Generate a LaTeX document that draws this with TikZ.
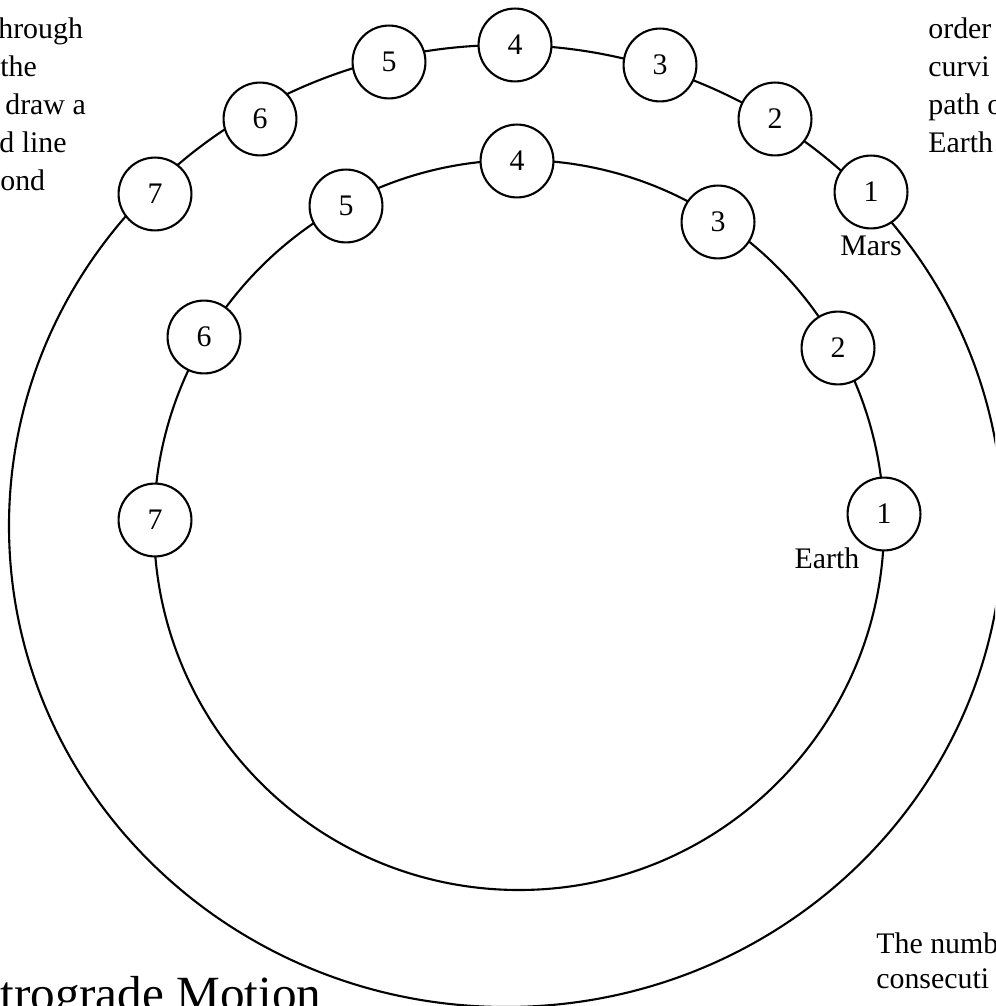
\documentclass[tikz,border=0pt]{standalone}
\usepackage{fontspec}
\setmainfont{Liberation Serif}
\begin{document}
\begin{tikzpicture}[x=0.02cm,y=-0.02cm,
	planet/.style={circle,draw,fill=white,line width=1.2pt,minimum size=1.458cm,inner sep=0pt,font=\fontsize{17}{17}\selectfont},
	orbit/.style={line width=1.2pt},
	tag/.style={font=\fontsize{17}{17}\selectfont},
	note/.style={anchor=base west,inner sep=0pt,font=\fontsize{17}{20}\selectfont}]
			\useasboundingbox (0,0) rectangle (995,1006);
			\clip (0,0) rectangle (995,1006);
			\draw[orbit] (506,526) ellipse [x radius=497, y radius=481]; %Mars
			\draw[orbit] (519,525) circle [radius=365]; %Earth
			\foreach \n/\px/\py in {1/871/192,2/775/119,3/660/65,4/515/45,5/389/62,6/260/119,7/155/194}
				\node[planet] (m\n) at (\px,\py) {\n};
			\foreach \n/\px/\py in {1/884/514,2/838/348,3/718/222,4/517/161,5/346/206,6/204/337,7/155/520}
				\node[planet] (e\n) at (\px,\py) {\n};
			\node[tag,below] (mars) at (m1.south) {Mars};
			\node[tag,anchor=base] (earth) at (827,568) {Earth};
			% text cut by the edges
			\foreach \t/\dx [count=\i] in {hrough/-2,the/0,draw a/5,d line/-1,ond/0}
				\node[note] (left\i) at (\dx,{1+38*\i}) {\t};
			\foreach \t [count=\i] in {order,curvi,path o,Earth}
				\node[note] (right\i) at (928,{1+38*\i}) {\t};
			\node[note] (numb1) at (876,953) {The numb};
			\node[note] (numb2) at (876,988) {consecuti};
			\node[note,font=\fontsize{28}{28}\selectfont] (title) at (0,1010) {trograde Motion};
\end{tikzpicture}
\end{document}
